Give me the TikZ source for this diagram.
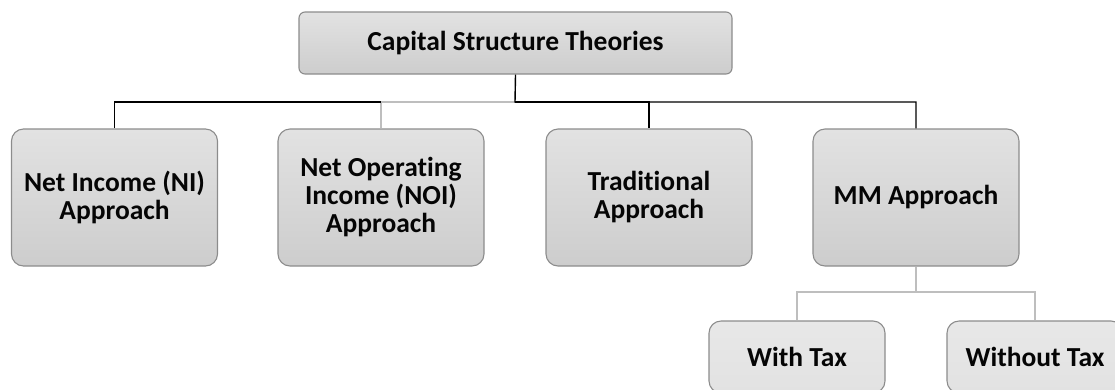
\documentclass[tikz,border=0pt]{standalone}
\usepackage{fontspec}
\setmainfont{Carlito}[Ligatures={NoCommon}]
\definecolor{boxborder}{HTML}{8C8C8C}
\definecolor{boxtop}{HTML}{E2E2E2}
\definecolor{boxbot}{HTML}{CDCDCD}
\definecolor{lightline}{HTML}{BEBEBE}
\definecolor{txt}{HTML}{050505}
\tikzset{
  box/.style={draw=boxborder, line width=1.1pt, top color=boxtop, bottom color=boxbot,
    rounded corners=12pt, minimum width=206pt, minimum height=137pt, align=center,
    text=txt, inner sep=0pt, font=\fontsize{27.5}{28}\selectfont\bfseries},
  topbox/.style={box, rounded corners=6pt, minimum width=433pt, minimum height=62pt},
  subbox/.style={box, minimum width=176pt, minimum height=72pt, top color=boxtop!80!white, bottom color=boxtop},
  mainline/.style={draw=black, line width=1.4pt},
  greyline/.style={draw=lightline, line width=2.4pt},
}
\begin{document}
\begin{tikzpicture}[x=1pt, y=-1pt]
\useasboundingbox (0,0) rectangle (1115,389);
\clip (0,0) rectangle (1115,389);
\node[topbox] (top) at (515.5,43) {Capital Structure Theories};
\node[box] (ni) at (114.5,197.5) {Net Income (NI)\\Approach};
\node[box] (noi) at (381,197.5) {Net Operating\\Income (NOI)\\Approach};
\node[box] (trad) at (649,197.5) {Traditional\\Approach};
\node[box] (mm) at (916,197.5) {MM Approach};
\node[subbox] (wt) at (797,357) {With Tax};
\node[subbox] (wot) at (1035,357) {Without Tax};
\coordinate (bus) at (515,102);
\coordinate (mbus) at (916,292);
\draw[greyline] (noi.north) |- (bus);
\draw[mainline] (ni.north) |- (noi.north |- bus);
\draw[mainline] (top.south) -- (bus) -| (mm.north);
\draw[mainline] (bus) -| (trad.north);
\draw[greyline] (mm.south) -- (mbus) -| (wt.north);
\draw[greyline] (mbus) -| (wot.north);
\end{tikzpicture}
\end{document}
